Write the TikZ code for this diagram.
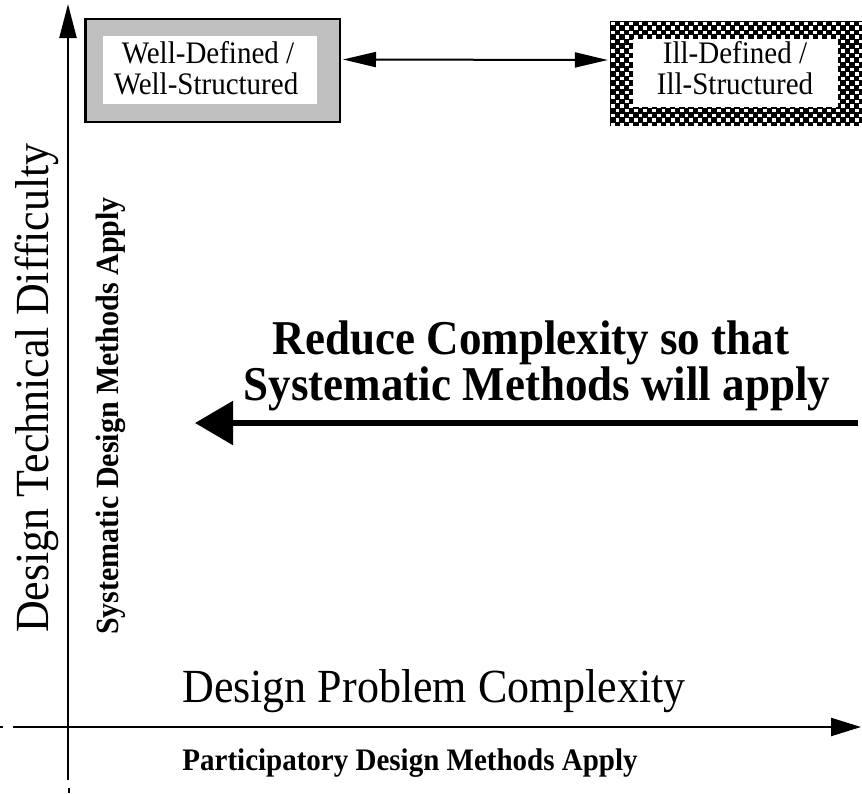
\documentclass[tikz,border=0pt]{standalone}
\usepackage{fontspec}
\usepackage{graphicx}
\setmainfont{Liberation Serif}
\usetikzlibrary{arrows.meta}
\definecolor{boxgray}{RGB}{192,192,192}
% slightly taller letter shapes
\newcommand\talltext[1]{\scalebox{1}[1.08]{#1}}
\tikzset{
  axisline/.style={line width=2.3pt,-{Triangle[length=34pt,width=17pt]}},
  linkarrow/.style={line width=2pt,{Triangle[length=33pt,width=15pt]}-{Triangle[length=33pt,width=15pt]}},
  bigarrow/.style={line width=5.5pt,-{Triangle[length=38pt,width=43pt]}},
  boxtext/.style={anchor=base,font=\fontsize{29}{33}\selectfont},
  hugetext/.style={anchor=base,font=\fontsize{44}{48}\selectfont},
  headtext/.style={anchor=base,font=\bfseries\fontsize{45}{48}\selectfont},
  notetext/.style={anchor=base,font=\bfseries\fontsize{29}{33}\selectfont},
}
\begin{document}
\begin{tikzpicture}[x=1pt,y=-1pt]
\useasboundingbox (0,0) rectangle (862,793);
\fill[white] (0,0) rectangle (862,793);

% axes
\coordinate (ybot) at (68,780);
\coordinate (ytop) at (68,4);
\coordinate (xleft) at (13,727);
\coordinate (xright) at (861,727);
\draw[axisline] (ybot) -- (ytop);
\draw[axisline,-{Triangle[length=30pt,width=18pt]}] (xleft) -- (xright);
\coordinate (ytick1) at (69,788);
\coordinate (ytick2) at (69,793);
\draw[line width=2pt] (ytick1) -- (ytick2);
\coordinate (xtick1) at (0,727);
\coordinate (xtick2) at (3,727);
\draw[line width=2pt] (xtick1) -- (xtick2);

% well-defined box
\node[draw,line width=2.5pt,fill=boxgray,minimum width=254.5pt,minimum height=103pt,inner sep=0pt] (wellbox) at (212.5,70.5) {};
\node[fill=white,minimum width=214pt,minimum height=68pt,inner sep=0pt] (wellin) at (210,70) {};
\node[boxtext] (well1) at (208,63) {\talltext{Well-Defined /}};
\node[boxtext] (well2) at (206,94) {\talltext{Well-Structured}};

% ill-defined box with checker fill
\node[fill=black,minimum width=252pt,minimum height=105pt,inner sep=0pt] (illbox) at (736,73.5) {};
\begin{scope}
  \clip (610,21) rectangle (862,126);
  \foreach \j in {0,...,23}{
    \pgfmathsetmacro\off{mod(\j,2)*4.6}
    \foreach \i in {0,...,28}{
      \fill[white] (611+\off+\i*9.2,21.5+\j*4.6) rectangle +(3.7,3.5);
    }
  }
\end{scope}
\node[fill=white,minimum width=205pt,minimum height=68pt,inner sep=0pt] (illin) at (735.5,73) {};
\node[boxtext] (ill1) at (735,63) {\talltext{Ill-Defined /}};
\node[boxtext] (ill2) at (735,94) {\talltext{Ill-Structured}};

% link between the two boxes
\draw[linkarrow] ([xshift=2pt,yshift=11pt]wellbox.east) -- ([xshift=-2pt,yshift=13.5pt]illbox.west);

% axis labels
\node[hugetext,rotate=90] (ylabel) at (48,388) {\talltext{Design Technical Difficulty}};
\node[notetext,rotate=90,font=\bfseries\fontsize{30}{34}\selectfont] (ynote) at (118,416) {\talltext{Systematic Design Methods Apply}};
\node[hugetext] (xlabel) at (434,702) {\talltext{Design Problem Complexity}};
\node[notetext] (xnote) at (410,770) {\talltext{Participatory Design Methods Apply}};

% central message and arrow
\node[headtext] (head1) at (531,354) {\talltext{Reduce Complexity so that}};
\node[headtext] (head2) at (537,400) {\talltext{Systematic Methods will apply}};
\coordinate (arrstart) at (858,423);
\coordinate (arrend) at (195,423);
\draw[bigarrow] (arrstart) -- (arrend);
\end{tikzpicture}
\end{document}
